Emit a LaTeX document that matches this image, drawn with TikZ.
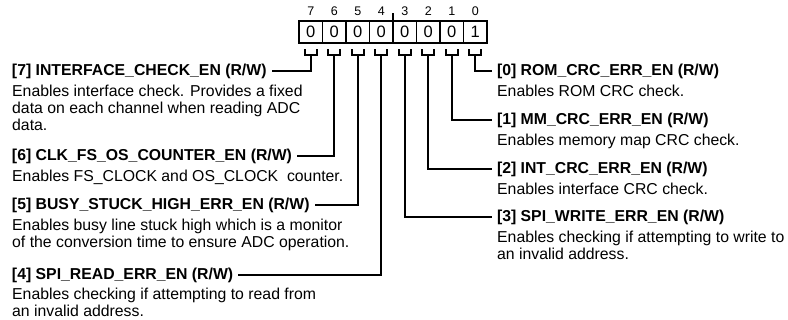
\documentclass[tikz,border=0pt]{standalone}
\usepackage{fontspec}
\setmainfont{Liberation Sans}
\usepackage{tikz}
\usetikzlibrary{positioning}

\begin{document}
\begin{tikzpicture}[x=1pt, y=1pt, node distance=0pt,
    cell/.style={draw, line width=1.8pt, minimum width=23.5pt, minimum height=22.3pt,
        inner sep=0pt, outer sep=0pt, font=\fontsize{16.5}{18}\selectfont},
    bitnum/.style={inner sep=0pt, font=\fontsize{12.5}{14}\selectfont},
    head/.style={inner sep=0pt, outer xsep=5pt, font=\bfseries\fontsize{15.8}{17}\selectfont},
    desc/.style={inner sep=0pt, align=left, font=\fontsize{15.8}{17}\selectfont},
    lead/.style={line width=1.8pt}]
    \useasboundingbox (0,0) rectangle (788,-320);

    % register bits
    \node (b7) [cell] at (310.75,-32.2) {0};
    \node (b6) [cell, right=of b7] {0};
    \node (b5) [cell, right=of b6] {0};
    \node (b4) [cell, right=of b5] {0};
    \node (b3) [cell, right=of b4] {0};
    \node (b2) [cell, right=of b3] {0};
    \node (b1) [cell, right=of b2] {0};
    \node (b0) [cell, right=of b1] {1};

    \node (n7) [bitnum, above=5pt of b7] {7};
    \node (n6) [bitnum, above=5pt of b6] {6};
    \node (n5) [bitnum, above=5pt of b5] {5};
    \node (n4) [bitnum, above=5pt of b4] {4};
    \node (n3) [bitnum, above=5pt of b3] {3};
    \node (n2) [bitnum, above=5pt of b2] {2};
    \node (n1) [bitnum, above=5pt of b1] {1};
    \node (n0) [bitnum, above=5pt of b0] {0};
    \draw[lead] (b4.north east) -- ++(0,8pt);

    % left fields
    \node (h7) [head, anchor=west] at (7,-71) {[7] INTERFACE\_CHECK\_EN (R/W)};
    \node (d7) [desc, below right=6pt and 5pt of h7.south west]
        {Enables interface check. Provides a fixed\\data on each channel when reading ADC\\data.};
    \node (h6) [head, anchor=west] at (7,-156) {[6] CLK\_FS\_OS\_COUNTER\_EN (R/W)};
    \node (d6) [desc, below right=6pt and 5pt of h6.south west]
        {Enables FS\_CLOCK and OS\_CLOCK\ \ counter.};
    \node (h5) [head, anchor=west] at (7,-205) {[5] BUSY\_STUCK\_HIGH\_ERR\_EN (R/W)};
    \node (d5) [desc, below right=6pt and 5pt of h5.south west]
        {Enables busy line stuck high which is a monitor\\of the conversion time to ensure ADC operation.};
    \node (h4) [head, anchor=west] at (7,-275) {[4] SPI\_READ\_ERR\_EN (R/W)};
    \node (d4) [desc, below right=5pt and 5pt of h4.south west]
        {Enables checking if attempting to read from\\an invalid address.};

    % right fields
    \node (h0) [head, anchor=west] at (492,-71) {[0] ROM\_CRC\_ERR\_EN (R/W)};
    \node (d0) [desc, below right=6pt and 5pt of h0.south west] {Enables ROM CRC check.};
    \node (h1) [head, anchor=west] at (492,-120) {[1] MM\_CRC\_ERR\_EN (R/W)};
    \node (d1) [desc, below right=6pt and 5pt of h1.south west] {Enables memory map CRC check.};
    \node (h2) [head, anchor=west] at (492,-169) {[2] INT\_CRC\_ERR\_EN (R/W)};
    \node (d2) [desc, below right=6pt and 5pt of h2.south west] {Enables interface CRC check.};
    \node (h3) [head, anchor=west] at (492,-217) {[3] SPI\_WRITE\_ERR\_EN (R/W)};
    \node (d3) [desc, below right=6pt and 5pt of h3.south west]
        {Enables checking if attempting to write to\\an invalid address.};

    % brackets and leaders
    \draw[lead] ([xshift=-6pt,yshift=-6pt]b7.south) |- ++(12pt,-6pt) -- ++(0,6pt)
        ([yshift=-12pt]b7.south) |- (h7.east);
    \draw[lead] ([xshift=-6pt,yshift=-6pt]b6.south) |- ++(12pt,-6pt) -- ++(0,6pt)
        ([yshift=-12pt]b6.south) |- (h6.east);
    \draw[lead] ([xshift=-6pt,yshift=-6pt]b5.south) |- ++(12pt,-6pt) -- ++(0,6pt)
        ([yshift=-12pt]b5.south) |- (h5.east);
    \draw[lead] ([xshift=-6pt,yshift=-6pt]b4.south) |- ++(12pt,-6pt) -- ++(0,6pt)
        ([yshift=-12pt]b4.south) |- (h4.east);
    \draw[lead] ([xshift=-6pt,yshift=-6pt]b3.south) |- ++(12pt,-6pt) -- ++(0,6pt)
        ([yshift=-12pt]b3.south) |- (h3.west);
    \draw[lead] ([xshift=-6pt,yshift=-6pt]b2.south) |- ++(12pt,-6pt) -- ++(0,6pt)
        ([yshift=-12pt]b2.south) |- (h2.west);
    \draw[lead] ([xshift=-6pt,yshift=-6pt]b1.south) |- ++(12pt,-6pt) -- ++(0,6pt)
        ([yshift=-12pt]b1.south) |- (h1.west);
    \draw[lead] ([xshift=-6pt,yshift=-6pt]b0.south) |- ++(12pt,-6pt) -- ++(0,6pt)
        ([yshift=-12pt]b0.south) |- (h0.west);
\end{tikzpicture}
\end{document}
